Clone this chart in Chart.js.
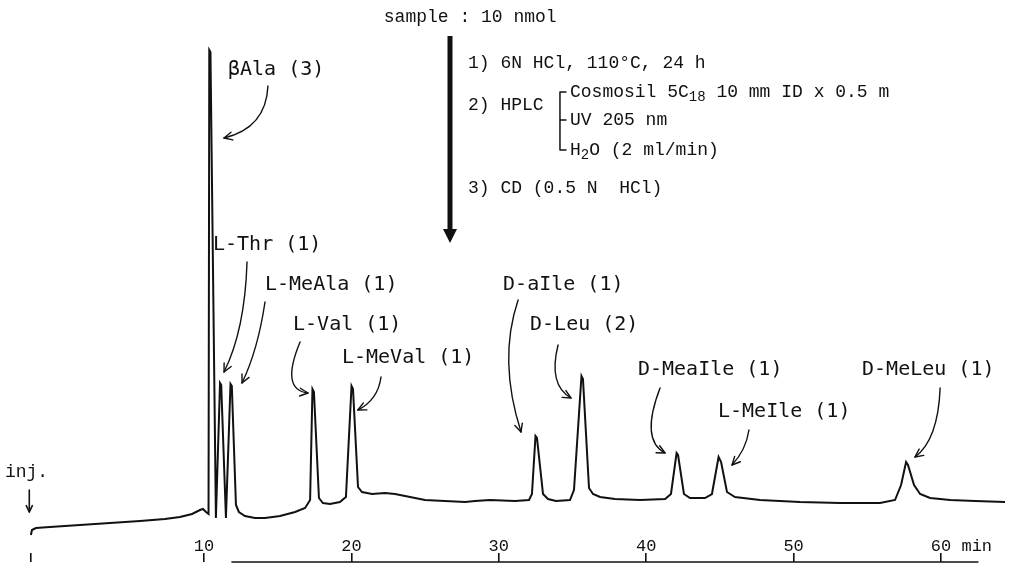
<!DOCTYPE html>
<html>
<head>
<meta charset="utf-8">
<script src="https://cdn.jsdelivr.net/npm/chart.js@4"></script>
<style>
html, body { margin: 0; padding: 0; background: #fff; }
</style>
</head>
<body>
<canvas id="chrom" width="1009" height="568"></canvas>
<script>
// TRACE: retention time (min) and detector signal
const times = [-1.74,-1.67,-1.40,-0.45,1.59,3.62,5.66,7.35,8.37,9.19,9.73,9.93,10.14,10.31,10.36,10.44,
  10.81,11.09,11.17,11.49,11.80,11.89,12.17,12.37,12.78,13.46,14.14,15.16,16.18,16.86,17.20,17.36,
  17.46,17.80,18.07,18.55,19.22,19.63,20.01,20.11,20.45,20.72,21.40,22.28,22.96,23.98,24.99,26.35,
  27.71,28.39,29.40,31.10,32.05,32.25,32.49,32.59,33.00,33.34,33.88,34.83,35.10,35.61,35.71,36.12,
  36.39,36.87,37.88,39.58,41.28,41.68,42.06,42.16,42.56,42.97,43.99,44.46,44.91,45.08,45.48,46.02,
  47.72,50.43,53.15,55.86,56.88,57.29,57.63,57.76,58.17,58.58,59.26,60.62,62.32,64.34];
const signal = [27,32,34,35,37,39,41,43,45,48,52,53,50,48,512,510,
  44,179,177,44,178,176,57,50,46,44,44,46,50,54,62,173,
  170,64,59,58,60,65,176,173,75,70,68,69,68,65,62,61,
  60,61,62,61,62,68,126,124,68,63,61,62,72,186,183,74,
  68,65,63,62,63,68,109,107,68,64,64,68,105,100,70,65,
  62,60,59,59,62,77,100,97,77,68,64,62,61,60];

// AXIS (first tick is the injection mark)
const tickValues = [-1.74, 10, 20, 30, 40, 50, 60];
const tickLabels = ['', '10', '20', '30', '40', '50', '    60 min'];
const axisLine = [11.9, 62.5];

// PEAK LABELS: text, label position [min, signal], arrow start / bend / tip
const peakNames = ['\u03b2Ala (3)', 'L-Thr (1)', 'L-MeAla (1)', 'L-Val (1)', 'L-MeVal (1)',
  'D-aIle (1)', 'D-Leu (2)', 'D-MeaIle (1)', 'L-MeIle (1)', 'D-MeLeu (1)'];
const labelAt = [[11.63,492],[10.61,317],[14.14,277],[16.04,237],[19.36,204],
  [30.29,277],[32.12,237],[39.44,192],[44.87,150],[54.64,192]];
const arrowStart = [[14.34,476],[12.92,300],[14.14,260],[16.52,220],[22.01,185],
  [31.31,262],[34.02,217],[40.94,174],[46.97,132],[59.94,174]];
const arrowBend = [[14.21,434],[12.78,232],[13.66,212],[15.16,172],[21.80,162],
  [29.94,202],[33.34,177],[39.58,122],[46.77,112],[59.80,122]];
const arrowTip = [[11.36,424],[11.36,190],[12.58,179],[17.06,169],[20.44,152],
  [31.51,130],[34.90,164],[41.28,109],[45.82,97],[58.23,105]];

// PROCEDURE BOX (segments: [text, subscript?])
const procLines = [
  [['sample : 10 nmol', 0]],
  [['1) 6N HCl, 110\u00b0C, 24 h', 0]],
  [['2) HPLC', 0]],
  [['Cosmosil 5C', 0], ['18', 1], [' 10 mm ID x 0.5 m', 0]],
  [['UV 205 nm', 0]],
  [['H', 0], ['2', 1], ['O (2 ml/min)', 0]],
  [['3) CD (0.5 N  HCl)', 0]]
];
const procAt = [[22.2,545],[27.91,499],[27.91,457],[34.83,470],[34.83,442],[34.83,412],[27.91,374]];
const bracketAt = [34.15, 470, 442, 412];
const stepArrow = [26.69, 526, 319];
const injAt = [-3.5, 90];
const injArrow = [-1.85, 72, 50];

const INK = '#111';

function arrowHead(ctx, tx, ty, fx, fy, len) {
  const a = Math.atan2(ty - fy, tx - fx);
  ctx.beginPath();
  ctx.moveTo(tx - len * Math.cos(a - 0.45), ty - len * Math.sin(a - 0.45));
  ctx.lineTo(tx, ty);
  ctx.lineTo(tx - len * Math.cos(a + 0.45), ty - len * Math.sin(a + 0.45));
  ctx.stroke();
}

const notes = {
  id: 'notes',
  afterDraw(chart) {
    const ctx = chart.ctx;
    const sx = chart.scales.x, sy = chart.scales.y;
    const X = v => sx.getPixelForValue(v), Y = v => sy.getPixelForValue(v);
    ctx.save();
    ctx.strokeStyle = INK;
    ctx.fillStyle = INK;
    ctx.lineCap = 'round';
    ctx.lineJoin = 'round';

    // axis line under the ticks
    ctx.lineWidth = 1.6;
    ctx.beginPath();
    ctx.moveTo(X(axisLine[0]), sx.top);
    ctx.lineTo(X(axisLine[1]), sx.top);
    ctx.stroke();

    // peak labels with curved arrows
    ctx.font = '20px "DejaVu Sans Mono", "Liberation Mono", monospace';
    ctx.textBaseline = 'middle';
    ctx.textAlign = 'left';
    ctx.lineWidth = 1.4;
    peakNames.forEach((name, i) => {
      ctx.fillText(name, X(labelAt[i][0]), Y(labelAt[i][1]));
      const [x0, y0] = [X(arrowStart[i][0]), Y(arrowStart[i][1])];
      const [x1, y1] = [X(arrowBend[i][0]), Y(arrowBend[i][1])];
      const [x2, y2] = [X(arrowTip[i][0]), Y(arrowTip[i][1])];
      ctx.beginPath();
      ctx.moveTo(x0, y0);
      ctx.quadraticCurveTo(x1, y1, x2, y2);
      ctx.stroke();
      arrowHead(ctx, x2, y2, x1, y1, 9);
    });

    // injection mark
    ctx.font = '18px "Liberation Mono", monospace';
    ctx.fillText('inj.', X(injAt[0]), Y(injAt[1]));
    ctx.lineWidth = 1.6;
    ctx.beginPath();
    ctx.moveTo(X(injArrow[0]), Y(injArrow[1]));
    ctx.lineTo(X(injArrow[0]), Y(injArrow[2]));
    ctx.stroke();
    arrowHead(ctx, X(injArrow[0]), Y(injArrow[2]), X(injArrow[0]), Y(injArrow[1]), 7);

    // procedure text
    procLines.forEach((segs, i) => {
      let px = X(procAt[i][0]);
      const py = Y(procAt[i][1]);
      segs.forEach(([txt, sub]) => {
        ctx.font = sub ? '14px "Liberation Mono", monospace' : '18px "Liberation Mono", monospace';
        ctx.fillText(txt, px, sub ? py + 5 : py);
        px += ctx.measureText(txt).width;
      });
    });

    // bracket
    const bx = X(bracketAt[0]);
    ctx.lineWidth = 1.5;
    ctx.beginPath();
    ctx.moveTo(bx + 6, Y(bracketAt[1]));
    ctx.lineTo(bx, Y(bracketAt[1]));
    ctx.lineTo(bx, Y(bracketAt[3]));
    ctx.lineTo(bx + 6, Y(bracketAt[3]));
    ctx.moveTo(bx, Y(bracketAt[2]));
    ctx.lineTo(bx + 6, Y(bracketAt[2]));
    ctx.stroke();

    // big step arrow
    const ax = X(stepArrow[0]);
    const tip = Y(stepArrow[2]);
    ctx.lineWidth = 5;
    ctx.lineCap = 'butt';
    ctx.beginPath();
    ctx.moveTo(ax, Y(stepArrow[1]));
    ctx.lineTo(ax, tip - 12);
    ctx.stroke();
    ctx.beginPath();
    ctx.moveTo(ax - 7, tip - 14);
    ctx.lineTo(ax + 7, tip - 14);
    ctx.lineTo(ax, tip);
    ctx.closePath();
    ctx.fill();
    ctx.restore();
  }
};

const ctx = document.getElementById('chrom').getContext('2d');
new Chart(ctx, {
  type: 'line',
  data: {
    datasets: [{
      data: times.map((t, i) => ({ x: t, y: signal[i] })),
      borderColor: INK,
      borderWidth: 2,
      pointRadius: 0,
      tension: 0,
      fill: false,
      clip: false
    }]
  },
  options: {
    responsive: false,
    animation: false,
    layout: { padding: { top: 0, left: 20, right: 4, bottom: 0 } },
    plugins: { legend: { display: false }, tooltip: { enabled: false } },
    scales: {
      x: {
        type: 'linear',
        position: 'bottom',
        min: -2.48,
        max: 64.34,
        border: { display: false },
        // ticks point up from the axis line, labels sit above them
        grid: { drawOnChartArea: false, drawTicks: true, tickLength: -9, color: INK, lineWidth: 1.6 },
        afterBuildTicks: s => { s.ticks = tickValues.map(v => ({ value: v })); },
        ticks: {
          autoSkip: false,
          maxRotation: 0,
          mirror: true,
          padding: 7.5,
          color: INK,
          font: { family: 'Liberation Mono', size: 17, lineHeight: 1 },
          callback: (v, i) => tickLabels[i]
        }
      },
      y: { display: false, min: 0, max: 562 }
    }
  },
  plugins: [notes]
});
</script>
</body>
</html>
